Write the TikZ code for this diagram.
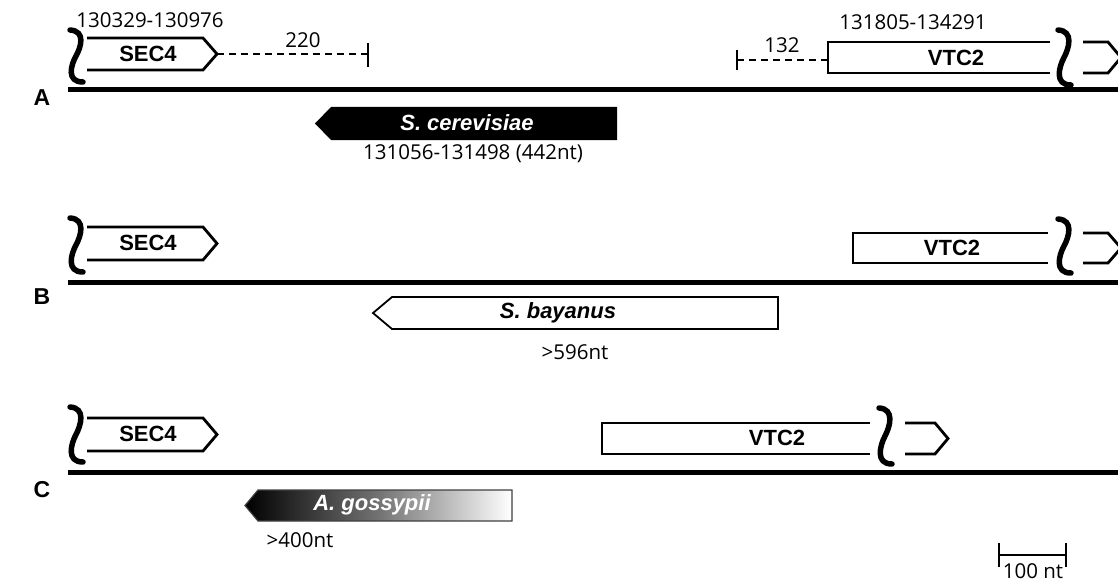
\documentclass[tikz,border=0pt]{standalone}
\usepackage{fontspec}
\setmainfont{Open Sans}
\newfontfamily\arialf{Liberation Sans}
\begin{document}
\begin{tikzpicture}[x=1pt,y=-1pt,
  chrom/.style={line width=5pt},
  gene/.style={line width=2.8pt, line join=miter},
  squig/.style={line width=5.5pt, line cap=round},
  dim/.style={line width=1.2pt, dash pattern=on 7pt off 5pt},
  tickmark/.style={line width=1.2pt},
  glabel/.style={font=\arialf\bfseries\fontsize{22}{22}\selectfont, inner sep=0pt},
  slabel/.style={font=\arialf\bfseries\itshape\fontsize{22}{22}\selectfont, inner sep=0pt},
  num/.style={font=\fontsize{20.5}{20.5}\selectfont, inner sep=0pt},
  rowlab/.style={font=\arialf\bfseries\fontsize{23}{23}\selectfont, inner sep=0pt},
]
\useasboundingbox (0,0) rectangle (1118,583);
\clip (0,0) rectangle (1118,583);
\newcommand\squiggle[3]{%
  \draw[squig, shift={(#1,#2)}] (0,0) .. controls (16,1) and (11,0.33*#3) .. (6,0.5*#3)
     .. controls (1,0.67*#3) and (-4,#3) .. (13,#3);}

% ---------------- Row A ----------------
\node[rowlab] (rA) at (42,98) {A};
\draw[chrom] (68,90) coordinate (cA1) -- (1118,90) coordinate (cA2);
\squiggle{70}{30}{52}
\draw[gene] (87,38) -- (203,38) -- (217,54) coordinate (secA) -- (203,70) -- (87,70);
\node[glabel] (secAl) at (148,54) {SEC4};
\node[num] (posA1) at (150,20) {130329-130976};
\coordinate (tA1) at (368,54);
\draw[dim] (secA) -- (tA1);
\draw[tickmark] (368,43) -- (368,67);
\node[num] (d220) at (303,40) {220};

\coordinate (tA2) at (737,60);
\coordinate (vtcA) at (828,60);
\draw[dim] (tA2) -- (vtcA);
\draw[tickmark] (737,50) -- (737,70);
\node[num] (d132) at (782,45) {132};
\draw[gene] (1050,42) -- (828,42) -- (828,73) -- (1050,73);
\node[glabel] (vtcAl) at (956,58) {VTC2};
\node[num] (posA2) at (913,22) {131805-134291};
\squiggle{1058}{30}{55}
\draw[gene] (1083,42) -- (1108,42) -- (1121,57.5) -- (1108,73) -- (1083,73);

\fill (315,123.5) -- (331,107) -- (617,107) -- (617,140) -- (331,140) -- cycle;
\node[slabel, text=white] (scer) at (467,123) {S. cerevisiae};
\node[num] (scerpos) at (473,154) {131056-131498 (442nt)};

% ---------------- Row B ----------------
\node[rowlab] (rB) at (42,297) {B};
\draw[chrom] (68,282) coordinate (cB1) -- (1118,282) coordinate (cB2);
\squiggle{70}{218}{54}
\draw[gene] (87,227) -- (203,227) -- (217,243.5) -- (203,260) -- (87,260);
\node[glabel] (secBl) at (148,243) {SEC4};
\draw[gene] (1048,233) -- (853,233) -- (853,263) -- (1048,263);
\node[glabel] (vtcBl) at (952,248) {VTC2};
\squiggle{1058}{219}{54}
\draw[gene] (1083,233) -- (1108,233) -- (1121,248) -- (1108,263) -- (1083,263);

\draw[line width=1.8pt, fill=white] (373,313) -- (392,297) -- (778,297) -- (778,329) -- (392,329) -- cycle;
\node[slabel] (sbay) at (558,313) {S. bayanus};
\node[num] (sbaylen) at (575,352) {>596nt};

% ---------------- Row C ----------------
\node[rowlab] (rC) at (42,490) {C};
\draw[chrom] (68,472) coordinate (cC1) -- (1118,472) coordinate (cC2);
\squiggle{70}{407}{55}
\draw[gene] (87,418) -- (203,418) -- (217,434.5) -- (203,451) -- (87,451);
\node[glabel] (secCl) at (148,434) {SEC4};
\draw[gene] (870,423) -- (602,423) -- (602,454) -- (870,454);
\node[glabel] (vtcCl) at (777,438) {VTC2};
\squiggle{879}{408}{56}
\draw[gene] (905,423) -- (935,423) -- (948,438.5) -- (935,454) -- (905,454);

\shade[left color=black, right color=white, middle color=black!55]
  (245,505.5) -- (258,490) -- (512,490) -- (512,521) -- (258,521) -- cycle;
\draw[line width=1.2pt, black!75] (245,505.5) -- (258,490) -- (512,490) -- (512,521) -- (258,521) -- cycle;
\node[slabel, text=white] (agos) at (372,505) {A. gossypii};
\node[num] (agoslen) at (300,540) {>400nt};

% ---------------- scale bar ----------------
\coordinate (sb1) at (999,555);
\coordinate (sb2) at (1066,555);
\draw[line width=1.3pt] (sb1) -- (sb2);
\draw[line width=1.3pt] (999,543) -- (999,567);
\draw[line width=1.3pt] (1066,543) -- (1066,567);
\node[num] (sbl) at (1033,571) {100 nt};
\end{tikzpicture}
\end{document}
